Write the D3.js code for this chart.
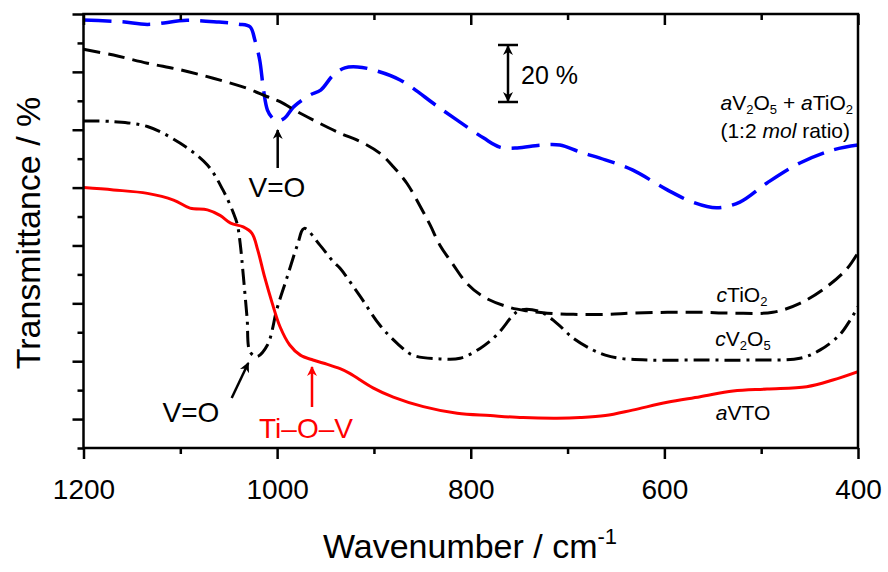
<!DOCTYPE html>
<html>
<head>
<meta charset="utf-8">
<script src="https://cdn.jsdelivr.net/npm/d3@7"></script>
<style>
  body { margin: 0; background: #fff; }
  text { font-family: "Liberation Sans", Arial, sans-serif; }
</style>
</head>
<body>
<div id="chart"></div>
<script>
// wavenumber (cm-1) and transmittance (%, offset curves)
const wnMix = [1200, 1160, 1134, 1093, 1060, 1040, 1028, 1023, 1018, 1014, 1010, 1005, 1000, 992, 983, 966, 955, 942, 930, 917, 901, 873, 832, 787, 770, 752, 728, 708, 687, 661, 633, 597, 571, 546, 522, 494, 460, 426, 400];
const tMix  = [137.9, 137.3, 136.4, 137.8, 137.2, 136.5, 135.6, 131, 124.1, 113.7, 106.8, 104.1, 103.0, 104.1, 107.9, 112, 113.7, 118.9, 121.4, 121.7, 120.7, 117.2, 107.5, 97.2, 94.0, 93.7, 94.7, 94.7, 92.3, 89.6, 86.1, 79.2, 75.0, 73.0, 75.0, 81.6, 88.5, 93.0, 94.7];

const wnTiO2 = [1200, 1169, 1134, 1100, 1066, 1031, 1010, 997, 979, 963, 935, 914, 894, 880, 866, 852, 842, 832, 818, 804, 787, 762, 742, 721, 694, 661, 633, 597, 563, 529, 488, 460, 432, 411, 400];
const tTiO2  = [127.8, 125.8, 123.0, 120.7, 117.8, 114.3, 111.4, 109.7, 106.2, 103.4, 98.8, 95.9, 91.9, 87.2, 81.5, 73.4, 67.1, 60.2, 53.3, 46.9, 42.3, 38.8, 37.4, 36.6, 36.2, 36.2, 36.6, 36.9, 36.9, 36.6, 36.9, 40.0, 45.8, 52.1, 57.5];

const wnV2O5 = [1200, 1169, 1134, 1100, 1072, 1056, 1045, 1041, 1038, 1035, 1031, 1028, 1021, 1010, 1000, 990, 979, 972, 956, 942, 935, 914, 894, 876, 860, 832, 811, 790, 773, 756, 749, 728, 711, 694, 674, 661, 646, 615, 563, 512, 460, 439, 419, 409, 400];
const tV2O5  = [103.0, 102.8, 101.1, 95.3, 87.8, 79.2, 71.1, 67.1, 60.2, 49.8, 34.8, 23.3, 21.6, 25.6, 38.3, 48.7, 60.2, 65.9, 60.2, 54.4, 52.1, 42.3, 32.5, 26.2, 22.1, 20.8, 21.0, 24.5, 29.1, 36.0, 37.7, 37.1, 33.1, 27.9, 23.9, 22.1, 21.0, 20.4, 20.4, 20.4, 21.0, 23.9, 29.1, 33.7, 38.8];

const wnVTO = [1200, 1169, 1134, 1107, 1090, 1072, 1059, 1048, 1035, 1026, 1020, 1013, 1005, 997, 987, 976, 963, 948, 935, 925, 901, 880, 849, 814, 780, 746, 711, 687, 661, 633, 597, 563, 529, 494, 453, 426, 400];
const tVTO  = [80.0, 79.2, 78.0, 75.7, 72.9, 72.3, 70.4, 67.7, 66.4, 64.2, 58.4, 49.2, 40.0, 31.9, 25.6, 22.1, 20.4, 18.9, 17.4, 15.8, 10.8, 7.6, 4.3, 2.0, 1.2, 0.5, 0.3, 0.5, 1.2, 3.1, 5.8, 7.7, 9.7, 10.4, 11.2, 13.5, 16.4];

const xMajor = [1200, 1000, 800, 600, 400];
const xMinor = [1100, 900, 700, 500];
const yMajor = [0, 20, 40, 60, 80, 100, 120, 140];
const yMinor = [-10, 10, 30, 50, 70, 90, 110, 130];

const width = 888, height = 572;
const svg = d3.select("#chart").append("svg")
    .attr("width", width).attr("height", height);

const x = d3.scaleLinear().domain([1200, 400]).range([83.5, 858]);
const y = d3.scaleLinear().domain([-10, 140]).range([448, 14]);

const defs = svg.append("defs");
function marker(id, color) {
    defs.append("marker").attr("id", id)
        .attr("viewBox", "0 0 10 10").attr("refX", 9).attr("refY", 5)
        .attr("markerWidth", 10).attr("markerHeight", 10)
        .attr("markerUnits", "userSpaceOnUse")
        .attr("orient", "auto")
        .append("path").attr("d", "M0,0 L10,5 L0,10 L3,5 Z").attr("fill", color);
}
marker("arrBlack", "#000");
marker("arrRed", "#f00");

defs.append("clipPath").attr("id", "clip")
    .append("rect").attr("x", 83.5).attr("y", 14).attr("width", 774.5).attr("height", 434);

// curves
const series = [
    {wn: wnMix, t: tMix, color: "#0000ff", dash: "28,11", w: 3.5},
    {wn: wnTiO2, t: tTiO2, color: "#000", dash: "17,8", w: 3},
    {wn: wnV2O5, t: tV2O5, color: "#000", dash: "16,6,3,6", w: 3},
    {wn: wnVTO, t: tVTO, color: "#ff0000", dash: null, w: 3}
];
const line = d3.line().x(d => x(d[0])).y(d => y(d[1])).curve(d3.curveCatmullRom.alpha(0.5));
const plot = svg.append("g").attr("clip-path", "url(#clip)");
series.forEach(s => {
    plot.append("path")
        .datum(s.wn.map((w, i) => [w, s.t[i]]))
        .attr("d", line)
        .attr("fill", "none")
        .attr("stroke", s.color)
        .attr("stroke-width", s.w)
        .attr("stroke-dasharray", s.dash);
});

// axes
function styleAxis(g) {
    g.select(".domain").remove();
    g.selectAll(".tick line").attr("stroke", "#000").attr("stroke-width", 2.5);
    g.selectAll(".tick text").attr("font-size", 28).attr("fill", "#000")
        .attr("font-family", "'Liberation Sans', Arial, sans-serif");
}
svg.append("g").attr("transform", "translate(0,448)")
    .call(d3.axisBottom(x).tickValues(xMajor).tickSize(11).tickPadding(20).tickFormat(d3.format("d")))
    .call(styleAxis);
svg.append("g").attr("transform", "translate(0,448)")
    .call(d3.axisBottom(x).tickValues(xMinor).tickSize(6).tickFormat(""))
    .call(styleAxis);
svg.append("g").attr("transform", "translate(0,14)")
    .call(d3.axisTop(x).tickValues(xMajor).tickSize(-11).tickFormat(""))
    .call(styleAxis);
svg.append("g").attr("transform", "translate(0,14)")
    .call(d3.axisTop(x).tickValues(xMinor).tickSize(-6).tickFormat(""))
    .call(styleAxis);
svg.append("g").attr("transform", "translate(83.5,0)")
    .call(d3.axisLeft(y).tickValues(yMajor).tickSize(11).tickFormat(""))
    .call(styleAxis);
svg.append("g").attr("transform", "translate(83.5,0)")
    .call(d3.axisLeft(y).tickValues(yMinor).tickSize(6).tickFormat(""))
    .call(styleAxis);

svg.append("rect").attr("x", 83.5).attr("y", 14).attr("width", 774.5).attr("height", 434)
    .attr("fill", "none").attr("stroke", "#000").attr("stroke-width", 2.5);

// axis titles
const xt = svg.append("text").attr("x", 470).attr("y", 558)
    .attr("text-anchor", "middle").attr("font-size", 34).attr("fill", "#000");
xt.append("tspan").text("Wavenumber / cm");
xt.append("tspan").attr("dy", -14).attr("font-size", 22).text("-1");

svg.append("text").attr("transform", "translate(40,233) rotate(-90)")
    .attr("text-anchor", "middle").attr("font-size", 34).attr("fill", "#000")
    .text("Transmittance / %");

// sample labels
function label(x0, y0, parts, size, anchor, color) {
    const t = svg.append("text").attr("x", x0).attr("y", y0)
        .attr("text-anchor", anchor).attr("font-size", size).attr("fill", color || "#000");
    parts.forEach(p => {
        const ts = t.append("tspan").text(p.s);
        if (p.i) ts.attr("font-style", "italic");
        if (p.sub) ts.attr("font-size", size * 0.62).attr("dy", size * 0.18);
        if (p.back) ts.attr("dy", -size * 0.18);
    });
    return t;
}
label(853, 110, [{s: "a", i: 1}, {s: "V"}, {s: "2", sub: 1}, {s: "O", back: 1}, {s: "5", sub: 1},
    {s: " + ", back: 1}, {s: "a", i: 1}, {s: "TiO"}, {s: "2", sub: 1}], 21, "end");
label(850, 138, [{s: "(1:2 "}, {s: "mol", i: 1}, {s: " ratio)"}], 21, "end");
label(742, 302, [{s: "c", i: 1}, {s: "TiO"}, {s: "2", sub: 1}], 21, "middle");
label(743, 346, [{s: "c", i: 1}, {s: "V"}, {s: "2", sub: 1}, {s: "O", back: 1}, {s: "5", sub: 1}], 21, "middle");
label(743, 420, [{s: "a", i: 1}, {s: "VTO"}], 21, "middle");

// band annotations
svg.append("text").attr("x", 277).attr("y", 197).attr("text-anchor", "middle")
    .attr("font-size", 28).text("V=O");
svg.append("line").attr("x1", 277.7).attr("y1", 168).attr("x2", 277.7).attr("y2", 130)
    .attr("stroke", "#000").attr("stroke-width", 2.5).attr("marker-end", "url(#arrBlack)");

svg.append("text").attr("x", 191).attr("y", 422).attr("text-anchor", "middle")
    .attr("font-size", 28).text("V=O");
svg.append("line").attr("x1", 231.7).attr("y1", 398).attr("x2", 248.3).attr("y2", 363)
    .attr("stroke", "#000").attr("stroke-width", 2.5).attr("marker-end", "url(#arrBlack)");

svg.append("text").attr("x", 306).attr("y", 438).attr("text-anchor", "middle")
    .attr("font-size", 28).attr("fill", "#f00").text("Ti\u2013O\u2013V");
svg.append("line").attr("x1", 312).attr("y1", 407).attr("x2", 312).attr("y2", 367)
    .attr("stroke", "#f00").attr("stroke-width", 2.5).attr("marker-end", "url(#arrRed)");

// 20 % scale bar
const bar = svg.append("g").attr("stroke", "#000").attr("stroke-width", 2.5);
bar.append("line").attr("x1", 498).attr("x2", 518).attr("y1", 45).attr("y2", 45);
bar.append("line").attr("x1", 498).attr("x2", 518).attr("y1", 102).attr("y2", 102);
bar.append("line").attr("x1", 508).attr("x2", 508).attr("y1", 73).attr("y2", 46)
    .attr("marker-end", "url(#arrBlack)");
bar.append("line").attr("x1", 508).attr("x2", 508).attr("y1", 73).attr("y2", 101)
    .attr("marker-end", "url(#arrBlack)");
svg.append("text").attr("x", 521).attr("y", 84).attr("font-size", 25).text("20 %");
</script>
</body>
</html>
